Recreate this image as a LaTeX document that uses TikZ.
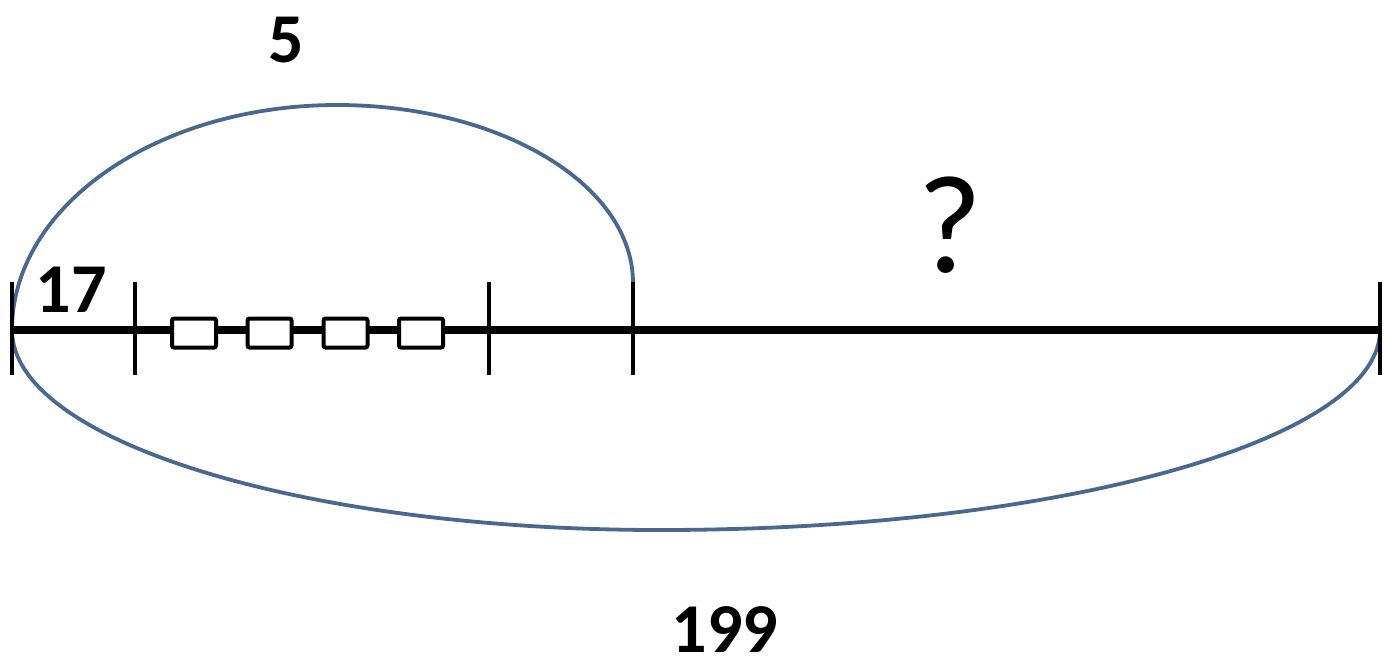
\documentclass[tikz,border=0pt]{standalone}
\usepackage{fontspec}
\setmainfont{Carlito}
\usetikzlibrary{calc}
\definecolor{arccol}{RGB}{72,104,146}
\begin{document}
\begin{tikzpicture}[x=0.5pt,y=0.5pt,
  mainline/.style={line width=4pt,black},
  tickline/.style={line width=2pt,black},
  cell/.style={draw=black,fill=white,line width=2pt,rounded corners=1pt,minimum width=22pt,minimum height=14.5pt,inner sep=0pt},
  span/.style={draw=arccol,line width=1.9pt},
  num/.style={font=\fontsize{35}{40}\selectfont\bfseries,inner sep=0pt},
  ques/.style={font=\fontsize{70}{80}\selectfont,inner sep=0pt}]
\useasboundingbox (0,0) rectangle (1384,-671);
\coordinate (t0) at (12,-330);
\coordinate (t1) at (135,-330);
\coordinate (t2) at (489,-330);
\coordinate (t3) at (633,-330);
\coordinate (t4) at (1380,-330);
% upper arc
\draw[span] (t0) arc[start angle=180,end angle=90,x radius=325,y radius=225]
  arc[start angle=90,end angle=0,x radius=296,y radius=178];
% lower arc
\draw[span] (t0) arc[start angle=180,end angle=270,x radius=648,y radius=200]
  arc[start angle=270,end angle=360,x radius=720,y radius=200];
% main line
\draw[mainline] (t0) -- (t4);
\foreach \t in {t0,t1,t2,t3,t4}
  \draw[tickline] ($(\t)+(0,48)$) -- ($(\t)+(0,-45)$);
% boxes
\node[cell] (b1) at (194,-333) {};
\node[cell] (b2) at (269.5,-333) {};
\node[cell] (b3) at (345.5,-333) {};
\node[cell] (b4) at (421,-333) {};
% labels
\node[num] (l5) at (286,-40) {5};
\node[num] (l17) at (71,-290) {17};
\node[num] (l199) at (725,-630) {199};
\node[ques] (lq) at (950,-225) {?};
\end{tikzpicture}
\end{document}
